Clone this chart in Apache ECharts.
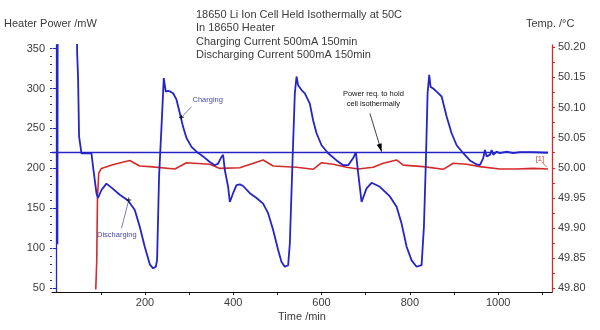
<!DOCTYPE html>
<html><head><meta charset="utf-8">
<script src="https://cdn.jsdelivr.net/npm/echarts@6/dist/echarts.min.js"></script>
<style>html,body{margin:0;padding:0;background:#fff}#c{width:600px;height:330px}</style>
</head><body><div id="c"></div><script>
// ---- data ----
const powerTime = [1.8,2.4,45.8,46.4,48.5,50.8,53.9,56.2,59.8,78.9,82.5,90.2,93.8,101.5,112.8,124.2,143,161.8,177,188.3,199.6,211,218.4,224.6,227.5,232,237.5,242.7,245,247.2,252.4,257.9,263.8,271.5,279,286.4,294.1,305.5,316.8,331.7,346.9,358.3,365.7,371.9,377.1,380.9,388.4,392.3,399.7,407.4,414.9,422.4,437.6,452.8,467.7,479,490.4,501.7,509.4,516.9,524.4,528.2,534.3,539.5,543.4,547,554.7,562.2,573.5,581,588.7,600,615,634,649,660.3,671.7,677.8,683,690.7,702,713.4,732.2,754.8,770,781.3,792.7,804,815.3,826.6,831.9,836.4,840.2,843.9,847,852.9,860.7,872,883.3,894.6,906,921,936,951.3,958.7,966.2,970.1,974,981.4,985.3,989,996.6,1004,1019.3,1034,1049.4,1079,1113];
const powerValues = [105,400,400,345,315,240,228,219,218,219,202,169,163,173,181,176,167,160,148,127,102,80,75,77,85,190,252,313,315,296,297,296,294,286,269,252,238,227,221,215,208,204,206,213,217,198,177,158,169,179,180,178,169,163,156,144,123,98,83,77,79,106,210,294,315,304,298,294,281,260,244,229,219,210,204,204,213,220,194,158,175,182,177,165,152,131,102,85,77,79,127,210,294,317,302,300,296,290,265,244,229,219,210,205,204,213,223,215,217,223,217,221,219,221,219,220.5,220.5,219.6];
const tempTime = [88.6,90.9,92.5,95.4,101.5,127,165.6,188,211,267.6,294.1,346.9,369.6,414.9,467.7,490.4,543.4,581,600,626.3,656.7,683,717,739.6,770,785,830.3,875.6,898.2,928.6,958.7,1004,1042,1079,1113];
const tempValues = [49.798,49.847,49.952,49.991,49.999,50.005,50.012,50.003,50.002,49.998,50.0085,50.006,49.999,50.000,50.013,50.003,50.001,49.9975,50.0085,50.006,50.001,49.998,50.001,50.0075,50.013,50.0045,50.002,49.9975,50.0075,50.006,50.002,49.998,49.998,49.999,49.998];
const isoTime = [-10.5, 1113];
const isoPower = [220, 220];

const timeTickValues = [100,200,300,400,500,600,700,800,900,1000,1100];
const timeLabelValues = [200,400,600,800,1000];
const powerLabelValues = [50,100,150,200,250,300,350];
const powerMinorValues = [50,60,70,80,90,100,110,120,130,140,150,160,170,180,190,200,210,220,230,240,250,260,270,280,290,300,310,320,330,340,350];
const tempLabelValues = [49.80,49.85,49.90,49.95,50.00,50.05,50.10,50.15,50.20];
const tempTickValues = [49.80,49.825,49.85,49.875,49.90,49.925,49.95,49.975,50.00,50.025,50.05,50.075,50.10,50.125,50.15,50.175,50.20];

const titleLines = ['18650 Li Ion Cell Held Isothermally at 50C','In 18650 Heater','Charging Current 500mA 150min','Discharging Current 500mA 150min'];

// annotation anchors in (time, power) coordinates
const chargingText = [307.7, 285.6], chargingFrom = [305.5, 277.2], chargingTo = [282.8, 263.9];
const dischargingText = [91.5, 116.7], dischargingFrom = [146.8, 125], dischargingTo = [163.4, 160.5];
const isoText1 = [717.4, 292.7], isoText2 = [717.4, 280.6], isoFrom = [709.5, 268.9], isoTo = [736, 220.9];
const refText = [1094.7, 211.4], refFrom = [1100, 207.6], refTo = [1110, 201.4];

// ---- chart ----
const FONT = 'Liberation Sans';
const TXT = '#3a3a3a';
const BLUE = '#2424c8';
const RED = '#d42a2a';
const zip = (a, b) => a.map((v, i) => [v, b[i]]);

const chart = echarts.init(document.getElementById('c'), null, {renderer: 'canvas'});
chart.setOption({
  animation: false,
  backgroundColor: '#ffffff',
  grid: {left: 52, right: 48, top: 45, bottom: 38, containLabel: false},
  xAxis: {
    type: 'value', min: -10.5, max: 1122,
    axisLine: {show: true, lineStyle: {color: '#111', width: 1}},
    axisTick: {show: true, customValues: timeTickValues, length: 3, lineStyle: {color: '#111'}},
    axisLabel: {customValues: timeLabelValues, color: TXT, fontSize: 11, fontFamily: FONT, margin: 5,
      formatter: v => String(v)},
    splitLine: {show: false}
  },
  yAxis: [
    {
      type: 'value', position: 'left', min: 45.4, max: 354.4,
      axisLine: {show: true, lineStyle: {color: BLUE, width: 1.3}},
      axisTick: {show: true, customValues: powerLabelValues, length: 4, lineStyle: {color: BLUE}},
      axisLabel: {customValues: powerLabelValues, color: TXT, fontSize: 11, fontFamily: FONT, margin: 7,
        formatter: v => String(v)},
      splitLine: {show: false}
    },
    {
      type: 'value', position: 'right', min: 49.7939, max: 50.2038,
      axisLine: {show: true, lineStyle: {color: RED, width: 1.3}},
      axisTick: {show: true, customValues: tempTickValues, length: 3, lineStyle: {color: RED}},
      axisLabel: {customValues: tempLabelValues, color: TXT, fontSize: 11, fontFamily: FONT, margin: 6,
        formatter: v => v.toFixed(2)},
      splitLine: {show: false}
    },
    {
      type: 'value', position: 'left', min: 45.4, max: 354.4,
      axisLine: {show: false},
      axisTick: {show: true, customValues: powerMinorValues, length: 2, lineStyle: {color: BLUE}},
      axisLabel: {show: false},
      splitLine: {show: false}
    }
  ],
  series: [
    {type: 'line', name: 'iso', data: zip(isoTime, isoPower), yAxisIndex: 0, showSymbol: false,
      lineStyle: {color: BLUE, width: 1.6}, z: 2},
    {type: 'line', name: 'temp', data: zip(tempTime, tempValues), yAxisIndex: 1, showSymbol: false,
      lineStyle: {color: RED, width: 1.6}, z: 3},
    {type: 'line', name: 'power', data: zip(powerTime, powerValues), yAxisIndex: 0, showSymbol: false,
      lineStyle: {color: BLUE, width: 1.8}, z: 4}
  ]
});

const px = p => chart.convertToPixel({xAxisIndex: 0, yAxisIndex: 0}, p);
const g = [];
titleLines.forEach((t, i) => g.push({type: 'text', left: 196, top: 9 + i * 13.6,
  style: {text: t, fill: TXT, font: '11px "Liberation Sans"'}}));
g.push({type: 'text', left: 4, top: 18, style: {text: 'Heater Power /mW', fill: TXT, font: '11px "Liberation Sans"'}});
g.push({type: 'text', left: 526, top: 18, style: {text: 'Temp. /°C', fill: TXT, font: '11px "Liberation Sans"'}});
g.push({type: 'text', x: 302, y: 317, style: {text: 'Time /min', fill: TXT, font: '11px "Liberation Sans"', align: 'center', verticalAlign: 'middle'}});

function addLine(a, b, color) {
  const p1 = px(a), p2 = px(b);
  g.push({type: 'line', shape: {x1: p1[0], y1: p1[1], x2: p2[0], y2: p2[1]}, style: {stroke: color, lineWidth: 0.8}, z: 10});
  return [p1, p2];
}
function addPlus(p) {
  g.push({type: 'line', shape: {x1: p[0] - 2.5, y1: p[1], x2: p[0] + 2.5, y2: p[1]}, style: {stroke: '#000', lineWidth: 0.8}, z: 11});
  g.push({type: 'line', shape: {x1: p[0], y1: p[1] - 2.5, x2: p[0], y2: p[1] + 2.5}, style: {stroke: '#000', lineWidth: 0.8}, z: 11});
}
function addText(p, text, color, align) {
  const q = px(p);
  g.push({type: 'text', x: q[0], y: q[1], style: {text: text, fill: color, font: '7.5px "Liberation Sans"', align: align || 'left', verticalAlign: 'middle'}, z: 10});
}
// Charging
addText(chargingText, 'Charging', '#4a4aa8');
let L = addLine(chargingFrom, chargingTo, '#5a5aa8'); addPlus(L[1]);
// Discharging
addText(dischargingText, 'Discharging', '#4a4aa8');
L = addLine(dischargingFrom, dischargingTo, '#5a5aa8'); addPlus(L[1]);
// Power req.
addText(isoText1, 'Power req. to hold', '#111', 'center');
addText(isoText2, 'cell isothermally', '#111', 'center');
L = addLine(isoFrom, isoTo, '#111');
{
  const [a, b] = L; const dx = b[0] - a[0], dy = b[1] - a[1]; const len = Math.hypot(dx, dy);
  const ux = dx / len, uy = dy / len, nx = -uy, ny = ux;
  const hl = 8, hw = 2.6;
  g.push({type: 'polygon', shape: {points: [[b[0], b[1]], [b[0] - ux * hl + nx * hw, b[1] - uy * hl + ny * hw], [b[0] - ux * hl - nx * hw, b[1] - uy * hl - ny * hw]]}, style: {fill: '#000'}, z: 11});
}
// [1]
addText(refText, '[1]', '#d04040', 'center');
addLine(refFrom, refTo, '#d04040');

chart.setOption({graphic: g});
</script></body></html>
